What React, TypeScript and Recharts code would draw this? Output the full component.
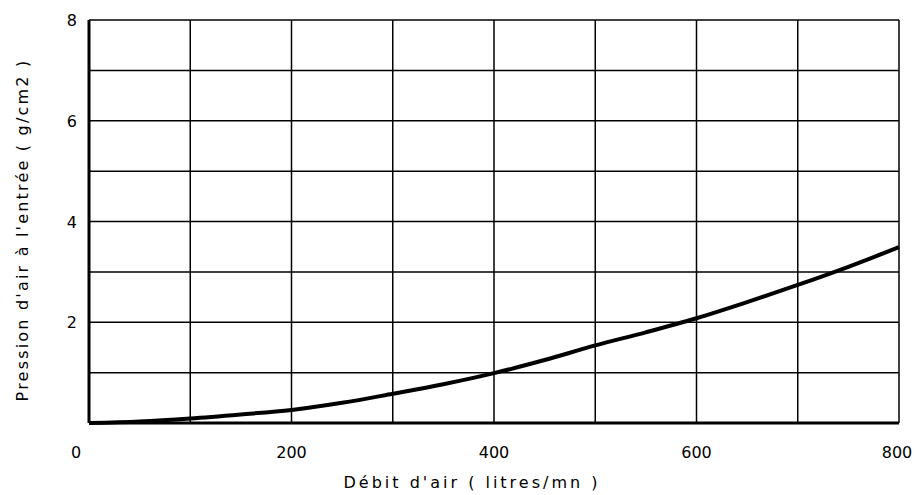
import React from "react";
import { LineChart, Line, XAxis, YAxis, CartesianGrid } from "recharts";

const debit = [0, 50, 100, 150, 200, 250, 300, 350, 400, 450, 500, 550, 600, 650, 700, 750, 800];
const pression = [0, 0.03, 0.09, 0.17, 0.26, 0.4, 0.58, 0.77, 0.99, 1.25, 1.54, 1.8, 2.08, 2.4, 2.74, 3.1, 3.49];
const xTicks = [0, 100, 200, 300, 400, 500, 600, 700, 800];
const yTicks = [0, 1, 2, 3, 4, 5, 6, 7, 8];
const xLabeled = [0, 200, 400, 600, 800];
const yLabeled = [2, 4, 6, 8];

const data = debit.map((d, i) => ({ debit: d, pression: pression[i] }));

const FONT = "'DejaVu Sans', sans-serif";

const XTick = (props: any) => {
  const { x, y, payload } = props;
  const v = payload.value;
  if (!xLabeled.includes(v)) return null;
  const dx = v === 0 ? -13 : v === 800 ? -2 : 0;
  return (
    <text x={x + dx} y={y + 27} textAnchor="middle" fontFamily={FONT} fontSize={16} fill="#000">
      {v}
    </text>
  );
};

const YTick = (props: any) => {
  const { x, y, payload } = props;
  const v = payload.value;
  if (!yLabeled.includes(v)) return null;
  return (
    <text x={x - 4} y={y + 6} textAnchor="end" fontFamily={FONT} fontSize={16} fill="#000">
      {v}
    </text>
  );
};

const XLabel = (props: any) => {
  const { viewBox } = props;
  const cx = viewBox.x + viewBox.width / 2 - 22;
  return (
    <text x={cx} y={488} textAnchor="middle" fontFamily={FONT} fontSize={16} fill="#000" style={{ letterSpacing: "3px" }}>
      Débit d'air ( litres/mn )
    </text>
  );
};

const YLabel = () => {
  return (
    <text
      x={0}
      y={0}
      transform="translate(28,230) rotate(-90)"
      textAnchor="middle"
      fontFamily={FONT}
      fontSize={16}
      fill="#000"
      style={{ letterSpacing: "2.2px" }}
    >
      Pression d'air à l'entrée ( g/cm2 )
    </text>
  );
};

export default function App() {
  return (
    <div style={{ position: "absolute", left: 0, top: 0, background: "#fff" }}>
      <LineChart width={914} height={495} data={data} margin={{ top: 20, right: 15, bottom: 12, left: 29 }}>
        <CartesianGrid stroke="#000" strokeWidth={1.5} horizontalValues={yTicks} verticalValues={xTicks} />
        <XAxis
          dataKey="debit"
          type="number"
          domain={[0, 800]}
          ticks={xTicks}
          tick={<XTick />}
          tickLine={false}
          axisLine={{ stroke: "#000", strokeWidth: 3 }}
          height={60}
          label={<XLabel />}
        />
        <YAxis
          type="number"
          domain={[0, 8]}
          ticks={yTicks}
          tick={<YTick />}
          tickLine={false}
          axisLine={{ stroke: "#000", strokeWidth: 3 }}
          width={60}
          label={<YLabel />}
        />
        <Line
          type="monotone"
          dataKey="pression"
          stroke="#000"
          strokeWidth={4}
          dot={false}
          isAnimationActive={false}
        />
      </LineChart>
    </div>
  );
}
